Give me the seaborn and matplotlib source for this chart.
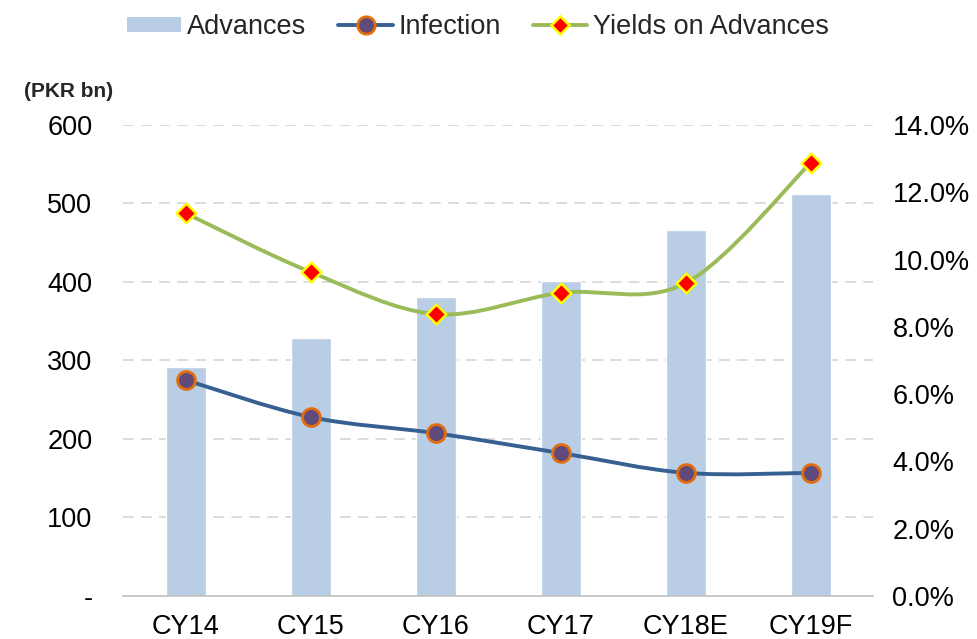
import numpy as np
import pandas as pd
import matplotlib
matplotlib.use("Agg")
import matplotlib.pyplot as plt
import seaborn as sns
from matplotlib.path import Path
from matplotlib.patches import PathPatch, Patch
from matplotlib.lines import Line2D
from matplotlib.ticker import FixedLocator, FuncFormatter

# ── data ───────────────────────────────────────────────────────────────────
years     = ["CY14", "CY15", "CY16", "CY17", "CY18E", "CY19F"]
advances  = [292, 329, 381, 401, 466, 512]          # PKR bn
infection = [6.42, 5.32, 4.84, 4.25, 3.66, 3.66]    # %
yields    = [11.38, 9.63, 8.38, 9.01, 9.30, 12.87]  # %

BAR_C   = "#B9CDE5"
INF_C   = "#376092"
INF_FC  = "#604A7B"
INF_EC  = "#E46C0A"
YLD_C   = "#9BBB59"
GRID_C  = "#D9D9D9"
AXIS_C  = "#BFBFBF"
FS      = 19.5

sns.set_theme(style="white")
plt.rcParams["font.family"] = ["Liberation Sans", "DejaVu Sans"]

df = pd.DataFrame({"year": years, "advances": advances,
                   "infection": infection, "yields": yields})


def smooth_path(xs, ys):
    """Excel-like smoothed line: Catmull-Rom segments as cubic Beziers."""
    pts = np.column_stack([xs, ys]).astype(float)
    ext = np.vstack([pts[0], pts, pts[-1]])
    verts, codes = [pts[0]], [Path.MOVETO]
    for i in range(1, len(ext) - 2):
        p0, p1, p2, p3 = ext[i - 1], ext[i], ext[i + 1], ext[i + 2]
        verts += [p1 + (p2 - p0) / 6, p2 - (p3 - p1) / 6, p2]
        codes += [Path.CURVE4] * 3
    return Path(verts, codes)


fig = plt.figure(figsize=(9.77, 6.39), dpi=100)
ax = fig.add_axes([0.1259, 0.0673, 0.7677, 0.7371])

sns.barplot(data=df, x="year", y="advances", color=BAR_C, width=0.32,
            saturation=1, ax=ax, zorder=2)
ax.set_xlim(-0.5, len(years) - 0.5)
ax.set_ylim(0, 600)
ax.set_yticks(range(0, 601, 100))
ax.yaxis.set_major_formatter(FuncFormatter(lambda v, _: "-" if v == 0 else f"{v:.0f}"))
ax.set_xlabel(""); ax.set_ylabel("")
for y in range(100, 601, 100):
    ax.axhline(y, color=GRID_C, lw=1.3, ls=(0, (6, 4)), zorder=0)

ax2 = ax.twinx()
ax2.set_ylim(0, 14)
ax2.set_yticks(np.arange(0, 14.1, 2))
ax2.yaxis.set_major_formatter(FuncFormatter(lambda v, _: f"{v:.1f}%"))

xpos = np.arange(len(years))
ax2.add_patch(PathPatch(smooth_path(xpos, infection), fill=False,
                        ec=INF_C, lw=2.8, capstyle="round", zorder=3))
ax2.add_patch(PathPatch(smooth_path(xpos, yields), fill=False,
                        ec=YLD_C, lw=2.8, capstyle="round", zorder=3))
sns.scatterplot(x=xpos, y=infection, ax=ax2, marker="o", s=165,
                color=INF_FC, edgecolor=INF_EC, linewidth=2, zorder=4)
sns.scatterplot(x=xpos, y=yields, ax=ax2, marker="D", s=100,
                color="#FF0000", edgecolor="#FFFF00", linewidth=1.8, zorder=4)

for a in (ax, ax2):
    for s in a.spines.values():
        s.set_visible(False)
    a.tick_params(axis="y", length=0, labelsize=FS, colors="black")
ax.spines["bottom"].set_visible(True)
ax.spines["bottom"].set_color(AXIS_C)
ax.spines["bottom"].set_linewidth(1.2)
ax.tick_params(axis="y", pad=22)
ax2.tick_params(axis="y", pad=14)
ax.tick_params(axis="x", which="major", length=0, labelsize=FS, pad=13,
               colors="black")
ax.xaxis.set_minor_locator(FixedLocator(np.arange(-0.5, len(years), 1.0)))
ax.tick_params(axis="x", which="minor", length=7, width=1.2, color=AXIS_C,
               direction="out")

fig.text(0.070, 0.857, "(PKR bn)", fontsize=15, fontweight="bold",
         ha="center", va="center")

handles = [
    Patch(facecolor=BAR_C, edgecolor="none"),
    Line2D([], [], color=INF_C, lw=2.8, marker="o", ms=12.5,
           markerfacecolor=INF_FC, markeredgecolor=INF_EC, markeredgewidth=2),
    Line2D([], [], color=YLD_C, lw=2.8, marker="D", ms=9.5,
           markerfacecolor="#FF0000", markeredgecolor="#FFFF00", markeredgewidth=1.8),
]
fig.legend(handles, ["Advances", "Infection", "Yields on Advances"],
           loc="center", bbox_to_anchor=(0.489, 0.958), ncol=3, frameon=False,
           fontsize=FS, handlelength=2.0, handleheight=0.5, handletextpad=0.2,
           columnspacing=1.2, borderaxespad=0)

fig.savefig("out.png", dpi=100)
